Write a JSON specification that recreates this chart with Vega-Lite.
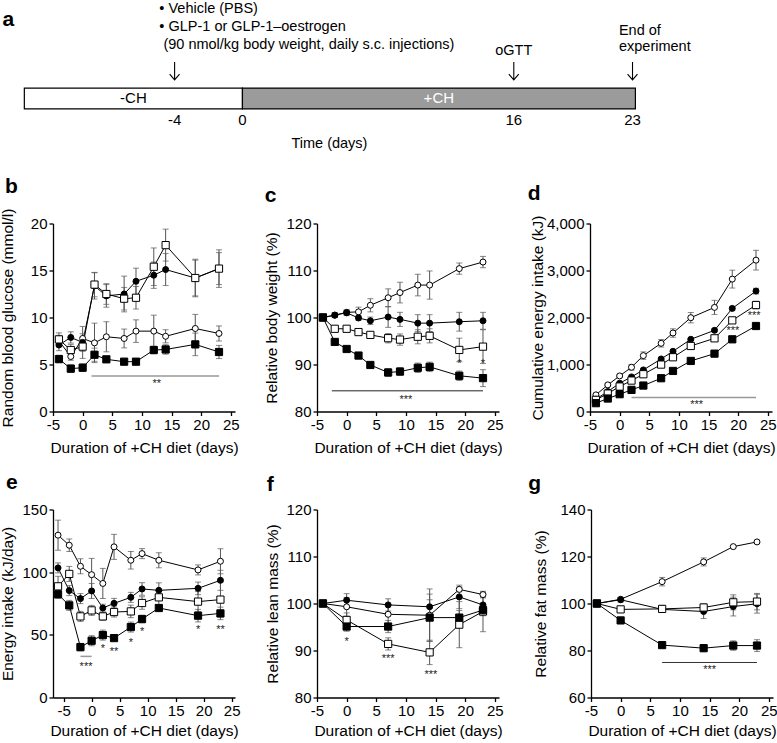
{
  "$schema": "https://vega.github.io/schema/vega-lite/v6.json",
  "padding": 0,
  "background": "white",
  "spacing": 16.5,
  "config": {
    "font": "Liberation Sans",
    "view": {"stroke": "transparent"},
    "axis": {
      "domainColor": "black", "domainWidth": 1.3, "tickColor": "black", "tickWidth": 1.3, "tickSize": 4,
      "labelColor": "black", "titleColor": "black", "labelFont": "Liberation Sans", "titleFont": "Liberation Sans",
      "labelFontSize": 15, "titleFontSize": 15.5, "titleFontWeight": "normal", "grid": false, "labelPadding": 2,
      "labelFlush": false, "labelOverlap": false
    },
    "axisX": {"labelExpr": "replace(datum.label, '−', '-')"},
    "axisY": {"titleBaseline": "middle"},
    "title": {"anchor": "start", "frame": "group", "baseline": "alphabetic", "fontSize": 21, "fontWeight": "bold", "font": "Liberation Sans", "color": "black"}
  },
  "datasets": {
    "a_bar_w": [{"d": -12.86, "d2": 0, "y": 4.78, "y2": 5.94}],
    "a_bar_g": [{"d": 0, "d2": 23.17, "y": 4.78, "y2": 5.94}],
    "a_lab_b": [{"d": -6.43, "y": 5.36, "t": "-CH"}],
    "a_lab_w": [{"d": 11.58, "y": 5.36, "t": "+CH"}],
    "a_ticks": [{"d": -4, "y": 6.56, "t": "-4"}, {"d": 0, "y": 6.56, "t": "0"}, {"d": 16, "y": 6.56, "t": "16"}, {"d": 23, "y": 6.56, "t": "23"}],
    "a_arrows": [{"d": -4, "y": 3.83}, {"d": 16, "y": 3.83}, {"d": 23, "y": 3.83}],
    "a_left": [
      {"d": -4.9, "y": 0.39, "t": "• Vehicle (PBS)"},
      {"d": -4.9, "y": 1.39, "t": "• GLP-1 or GLP-1–oestrogen"},
      {"d": -4.66, "y": 2.39, "t": "(90 nmol/kg body weight, daily s.c. injections)"},
      {"d": 22.2, "y": 1.61, "t": "End of"},
      {"d": 22.2, "y": 2.5, "t": "experiment"}
    ],
    "a_center": [{"d": 16, "y": 2.72, "t": "oGTT"}, {"d": 5.13, "y": 7.89, "t": "Time (days)"}],
    "a_letter": [{"d": -14.15, "y": 1.0, "t": "a"}],
    "b": [
      {"s": "Vehicle −CH", "d": -4, "v": 7.5, "e": 0.6}, {"s": "Vehicle −CH", "d": -2, "v": 5.85, "e": 0.4}, {"s": "Vehicle −CH", "d": 0, "v": 7.77, "e": 0.5}, {"s": "Vehicle −CH", "d": 2, "v": 7.3, "e": 2.1}, {"s": "Vehicle −CH", "d": 4, "v": 7.95, "e": 1.6}, {"s": "Vehicle −CH", "d": 7, "v": 7.77, "e": 1.0}, {"s": "Vehicle −CH", "d": 9, "v": 8.55, "e": 1.2}, {"s": "Vehicle −CH", "d": 12, "v": 8.55, "e": 1.7}, {"s": "Vehicle −CH", "d": 14, "v": 8.0, "e": 0.7}, {"s": "Vehicle −CH", "d": 19, "v": 8.83, "e": 1.5}, {"s": "Vehicle −CH", "d": 23, "v": 8.3, "e": 0.8},
      {"s": "Vehicle +CH", "d": -4, "v": 7.07, "e": 0.6}, {"s": "Vehicle +CH", "d": -2, "v": 7.88, "e": 0.6}, {"s": "Vehicle +CH", "d": 0, "v": 7.35, "e": 1.7}, {"s": "Vehicle +CH", "d": 2, "v": 13.36, "e": 1.4}, {"s": "Vehicle +CH", "d": 4, "v": 12.3, "e": 1.2}, {"s": "Vehicle +CH", "d": 7, "v": 12.5, "e": 1.9}, {"s": "Vehicle +CH", "d": 9, "v": 13.85, "e": 1.4}, {"s": "Vehicle +CH", "d": 12, "v": 14.5, "e": 1.4}, {"s": "Vehicle +CH", "d": 14, "v": 15.1, "e": 1.7}, {"s": "Vehicle +CH", "d": 19, "v": 14.2, "e": 1.9}, {"s": "Vehicle +CH", "d": 23, "v": 15.2, "e": 1.7},
      {"s": "GLP-1", "d": -4, "v": 7.67, "e": 0.7}, {"s": "GLP-1", "d": -2, "v": 6.54, "e": 0.6}, {"s": "GLP-1", "d": 0, "v": 6.9, "e": 0.5}, {"s": "GLP-1", "d": 2, "v": 13.5, "e": 1.3}, {"s": "GLP-1", "d": 4, "v": 12.5, "e": 1.1}, {"s": "GLP-1", "d": 7, "v": 12.0, "e": 1.2}, {"s": "GLP-1", "d": 9, "v": 12.1, "e": 1.2}, {"s": "GLP-1", "d": 12, "v": 15.4, "e": 2.0}, {"s": "GLP-1", "d": 14, "v": 17.7, "e": 1.7}, {"s": "GLP-1", "d": 19, "v": 14.2, "e": 2.0}, {"s": "GLP-1", "d": 23, "v": 15.2, "e": 2.0},
      {"s": "GLP-1–oestrogen", "d": -4, "v": 5.58, "e": 0.4}, {"s": "GLP-1–oestrogen", "d": -2, "v": 4.56, "e": 0.4}, {"s": "GLP-1–oestrogen", "d": 0, "v": 4.66, "e": 0.4}, {"s": "GLP-1–oestrogen", "d": 2, "v": 6.04, "e": 0.7}, {"s": "GLP-1–oestrogen", "d": 4, "v": 5.55, "e": 0.2}, {"s": "GLP-1–oestrogen", "d": 7, "v": 5.3, "e": 0.2}, {"s": "GLP-1–oestrogen", "d": 9, "v": 5.3, "e": 0.2}, {"s": "GLP-1–oestrogen", "d": 12, "v": 6.54, "e": 0.4}, {"s": "GLP-1–oestrogen", "d": 14, "v": 6.6, "e": 0.5}, {"s": "GLP-1–oestrogen", "d": 19, "v": 7.14, "e": 1.2}, {"s": "GLP-1–oestrogen", "d": 23, "v": 6.33, "e": 0.7}
    ],
    "b_r": [{"d": 1.5, "d2": 23, "v": 3.78}],
    "b_t": [{"d": 12.5, "v": 2.9, "t": "**"}],
    "c": [
      {"s": "Vehicle −CH", "d": -4, "v": 100, "e": 0}, {"s": "Vehicle −CH", "d": -2, "v": 100.5, "e": 0.5}, {"s": "Vehicle −CH", "d": 0, "v": 101.1, "e": 0.5}, {"s": "Vehicle −CH", "d": 2, "v": 101.2, "e": 1.0}, {"s": "Vehicle −CH", "d": 4, "v": 102.6, "e": 1.4}, {"s": "Vehicle −CH", "d": 7, "v": 104.2, "e": 1.9}, {"s": "Vehicle −CH", "d": 9, "v": 105.3, "e": 2.2}, {"s": "Vehicle −CH", "d": 12, "v": 106.9, "e": 2.3}, {"s": "Vehicle −CH", "d": 14, "v": 106.9, "e": 3.0}, {"s": "Vehicle −CH", "d": 19, "v": 110.4, "e": 1.2}, {"s": "Vehicle −CH", "d": 23, "v": 111.8, "e": 1.2},
      {"s": "Vehicle +CH", "d": -4, "v": 100, "e": 0}, {"s": "Vehicle +CH", "d": -2, "v": 100.5, "e": 0.5}, {"s": "Vehicle +CH", "d": 0, "v": 101.0, "e": 0.6}, {"s": "Vehicle +CH", "d": 2, "v": 99.9, "e": 0.5}, {"s": "Vehicle +CH", "d": 4, "v": 99.3, "e": 0.8}, {"s": "Vehicle +CH", "d": 7, "v": 100.1, "e": 2.2}, {"s": "Vehicle +CH", "d": 9, "v": 99.6, "e": 1.5}, {"s": "Vehicle +CH", "d": 12, "v": 98.8, "e": 1.8}, {"s": "Vehicle +CH", "d": 14, "v": 98.8, "e": 1.8}, {"s": "Vehicle +CH", "d": 19, "v": 99.1, "e": 2.0}, {"s": "Vehicle +CH", "d": 23, "v": 99.3, "e": 1.8},
      {"s": "GLP-1", "d": -4, "v": 100, "e": 0}, {"s": "GLP-1", "d": -2, "v": 97.6, "e": 0.4}, {"s": "GLP-1", "d": 0, "v": 97.6, "e": 0.3}, {"s": "GLP-1", "d": 2, "v": 96.9, "e": 0.3}, {"s": "GLP-1", "d": 4, "v": 96.3, "e": 0.3}, {"s": "GLP-1", "d": 7, "v": 95.6, "e": 1.0}, {"s": "GLP-1", "d": 9, "v": 95.3, "e": 1.2}, {"s": "GLP-1", "d": 12, "v": 95.9, "e": 1.5}, {"s": "GLP-1", "d": 14, "v": 96.1, "e": 1.5}, {"s": "GLP-1", "d": 19, "v": 93.1, "e": 2.5}, {"s": "GLP-1", "d": 23, "v": 93.8, "e": 3.6},
      {"s": "GLP-1–oestrogen", "d": -4, "v": 100, "e": 0}, {"s": "GLP-1–oestrogen", "d": -2, "v": 94.8, "e": 0.3}, {"s": "GLP-1–oestrogen", "d": 0, "v": 93.3, "e": 0.3}, {"s": "GLP-1–oestrogen", "d": 2, "v": 91.9, "e": 0.4}, {"s": "GLP-1–oestrogen", "d": 4, "v": 89.9, "e": 0.5}, {"s": "GLP-1–oestrogen", "d": 7, "v": 88.3, "e": 0.8}, {"s": "GLP-1–oestrogen", "d": 9, "v": 88.5, "e": 0.8}, {"s": "GLP-1–oestrogen", "d": 12, "v": 89.3, "e": 1.0}, {"s": "GLP-1–oestrogen", "d": 14, "v": 89.5, "e": 1.0}, {"s": "GLP-1–oestrogen", "d": 19, "v": 87.6, "e": 1.0}, {"s": "GLP-1–oestrogen", "d": 23, "v": 87.1, "e": 1.8}
    ],
    "c_r": [{"d": -2.5, "d2": 23, "v": 84.4}],
    "c_t": [{"d": 10, "v": 82.4, "t": "***"}, {"d": 19, "v": 90.1, "t": "*"}, {"d": 23, "v": 90.1, "t": "*"}],
    "dd": [
      {"s": "Vehicle −CH", "d": -4, "v": 354, "e": 30}, {"s": "Vehicle −CH", "d": -2, "v": 566, "e": 30}, {"s": "Vehicle −CH", "d": 0, "v": 757, "e": 30}, {"s": "Vehicle −CH", "d": 2, "v": 941, "e": 60}, {"s": "Vehicle −CH", "d": 4, "v": 1189, "e": 80}, {"s": "Vehicle −CH", "d": 7, "v": 1451, "e": 80}, {"s": "Vehicle −CH", "d": 9, "v": 1670, "e": 90}, {"s": "Vehicle −CH", "d": 12, "v": 1996, "e": 110}, {"s": "Vehicle −CH", "d": 16, "v": 2215, "e": 150}, {"s": "Vehicle −CH", "d": 19, "v": 2817, "e": 190}, {"s": "Vehicle −CH", "d": 23, "v": 3220, "e": 210},
      {"s": "Vehicle +CH", "d": -4, "v": 262, "e": 20}, {"s": "Vehicle +CH", "d": -2, "v": 425, "e": 20}, {"s": "Vehicle +CH", "d": 0, "v": 602, "e": 20}, {"s": "Vehicle +CH", "d": 2, "v": 736, "e": 20}, {"s": "Vehicle +CH", "d": 4, "v": 885, "e": 20}, {"s": "Vehicle +CH", "d": 7, "v": 1118, "e": 20}, {"s": "Vehicle +CH", "d": 9, "v": 1281, "e": 20}, {"s": "Vehicle +CH", "d": 12, "v": 1536, "e": 20}, {"s": "Vehicle +CH", "d": 16, "v": 1727, "e": 30}, {"s": "Vehicle +CH", "d": 19, "v": 2194, "e": 40}, {"s": "Vehicle +CH", "d": 23, "v": 2562, "e": 60},
      {"s": "GLP-1", "d": -4, "v": 248, "e": 20}, {"s": "GLP-1", "d": -2, "v": 382, "e": 20}, {"s": "GLP-1", "d": 0, "v": 531, "e": 20}, {"s": "GLP-1", "d": 2, "v": 658, "e": 20}, {"s": "GLP-1", "d": 4, "v": 793, "e": 20}, {"s": "GLP-1", "d": 7, "v": 998, "e": 20}, {"s": "GLP-1", "d": 9, "v": 1154, "e": 20}, {"s": "GLP-1", "d": 12, "v": 1394, "e": 30}, {"s": "GLP-1", "d": 16, "v": 1557, "e": 30}, {"s": "GLP-1", "d": 19, "v": 1939, "e": 50}, {"s": "GLP-1", "d": 23, "v": 2265, "e": 80},
      {"s": "GLP-1–oestrogen", "d": -4, "v": 177, "e": 15}, {"s": "GLP-1–oestrogen", "d": -2, "v": 276, "e": 15}, {"s": "GLP-1–oestrogen", "d": 0, "v": 368, "e": 15}, {"s": "GLP-1–oestrogen", "d": 2, "v": 460, "e": 15}, {"s": "GLP-1–oestrogen", "d": 4, "v": 552, "e": 15}, {"s": "GLP-1–oestrogen", "d": 7, "v": 708, "e": 15}, {"s": "GLP-1–oestrogen", "d": 9, "v": 863, "e": 15}, {"s": "GLP-1–oestrogen", "d": 12, "v": 1076, "e": 15}, {"s": "GLP-1–oestrogen", "d": 16, "v": 1231, "e": 15}, {"s": "GLP-1–oestrogen", "d": 19, "v": 1536, "e": 15}, {"s": "GLP-1–oestrogen", "d": 23, "v": 1819, "e": 20}
    ],
    "d_r": [{"d": 2, "d2": 23, "v": 297}],
    "d_t": [{"d": 13, "v": 130, "t": "***"}, {"d": 19.1, "v": 1720, "t": "***"}, {"d": 22.7, "v": 2040, "t": "***"}],
    "e": [
      {"s": "Vehicle −CH", "d": -6, "v": 129.5, "e": 12}, {"s": "Vehicle −CH", "d": -4, "v": 121.5, "e": 5}, {"s": "Vehicle −CH", "d": -2, "v": 104.7, "e": 6}, {"s": "Vehicle −CH", "d": 0, "v": 98, "e": 13}, {"s": "Vehicle −CH", "d": 2, "v": 91, "e": 12}, {"s": "Vehicle −CH", "d": 4, "v": 120.2, "e": 10}, {"s": "Vehicle −CH", "d": 7, "v": 109.5, "e": 7}, {"s": "Vehicle −CH", "d": 9, "v": 114.8, "e": 4}, {"s": "Vehicle −CH", "d": 12, "v": 109.5, "e": 6}, {"s": "Vehicle −CH", "d": 19, "v": 101.8, "e": 4}, {"s": "Vehicle −CH", "d": 23, "v": 108.7, "e": 10},
      {"s": "Vehicle +CH", "d": -6, "v": 103.4, "e": 4}, {"s": "Vehicle +CH", "d": -4, "v": 85.3, "e": 4}, {"s": "Vehicle +CH", "d": -2, "v": 78.9, "e": 4}, {"s": "Vehicle +CH", "d": 0, "v": 85, "e": 6}, {"s": "Vehicle +CH", "d": 2, "v": 71.4, "e": 3}, {"s": "Vehicle +CH", "d": 4, "v": 75.1, "e": 4}, {"s": "Vehicle +CH", "d": 7, "v": 79.9, "e": 4}, {"s": "Vehicle +CH", "d": 9, "v": 86.6, "e": 5}, {"s": "Vehicle +CH", "d": 12, "v": 85.5, "e": 6}, {"s": "Vehicle +CH", "d": 19, "v": 87.1, "e": 5}, {"s": "Vehicle +CH", "d": 23, "v": 93.5, "e": 8},
      {"s": "GLP-1", "d": -6, "v": 88.7, "e": 8}, {"s": "GLP-1", "d": -4, "v": 98.6, "e": 6}, {"s": "GLP-1", "d": -2, "v": 64.7, "e": 4}, {"s": "GLP-1", "d": 0, "v": 69.5, "e": 4}, {"s": "GLP-1", "d": 2, "v": 64.7, "e": 3}, {"s": "GLP-1", "d": 4, "v": 68.2, "e": 4}, {"s": "GLP-1", "d": 7, "v": 68.7, "e": 5}, {"s": "GLP-1", "d": 9, "v": 75.4, "e": 5}, {"s": "GLP-1", "d": 12, "v": 79.9, "e": 6}, {"s": "GLP-1", "d": 19, "v": 76.5, "e": 8}, {"s": "GLP-1", "d": 23, "v": 78.1, "e": 14},
      {"s": "GLP-1–oestrogen", "d": -6, "v": 82.3, "e": 3}, {"s": "GLP-1–oestrogen", "d": -4, "v": 73.5, "e": 4}, {"s": "GLP-1–oestrogen", "d": -2, "v": 40.2, "e": 3}, {"s": "GLP-1–oestrogen", "d": 0, "v": 45.3, "e": 4}, {"s": "GLP-1–oestrogen", "d": 2, "v": 49.8, "e": 4}, {"s": "GLP-1–oestrogen", "d": 4, "v": 47.4, "e": 2}, {"s": "GLP-1–oestrogen", "d": 7, "v": 56.2, "e": 4}, {"s": "GLP-1–oestrogen", "d": 9, "v": 62.6, "e": 3}, {"s": "GLP-1–oestrogen", "d": 12, "v": 71.4, "e": 2}, {"s": "GLP-1–oestrogen", "d": 19, "v": 65.3, "e": 5}, {"s": "GLP-1–oestrogen", "d": 23, "v": 67.1, "e": 5}
    ],
    "e_r": [{"d": -2, "d2": 0, "v": 32.8}],
    "e_t": [{"d": -1, "v": 24.5, "t": "***"}, {"d": 2, "v": 38.5, "t": "*"}, {"d": 4, "v": 36.5, "t": "**"}, {"d": 7, "v": 43.5, "t": "*"}, {"d": 9, "v": 52.5, "t": "*"}, {"d": 19, "v": 53.5, "t": "*"}, {"d": 23, "v": 53.5, "t": "**"}],
    "f": [
      {"s": "Vehicle −CH", "d": -4, "v": 100, "e": 0}, {"s": "Vehicle −CH", "d": 0, "v": 99.3, "e": 2.0}, {"s": "Vehicle −CH", "d": 7, "v": 97.7, "e": 2.0}, {"s": "Vehicle −CH", "d": 14, "v": 97.5, "e": 5.6}, {"s": "Vehicle −CH", "d": 19, "v": 103.0, "e": 0.5}, {"s": "Vehicle −CH", "d": 23, "v": 101.9, "e": 0.5},
      {"s": "Vehicle +CH", "d": -4, "v": 100, "e": 0}, {"s": "Vehicle +CH", "d": 0, "v": 100.7, "e": 1.4}, {"s": "Vehicle +CH", "d": 7, "v": 99.7, "e": 1.3}, {"s": "Vehicle +CH", "d": 14, "v": 99.3, "e": 1.5}, {"s": "Vehicle +CH", "d": 19, "v": 101.4, "e": 2.5}, {"s": "Vehicle +CH", "d": 23, "v": 99.7, "e": 1.5},
      {"s": "GLP-1", "d": -4, "v": 100, "e": 0}, {"s": "GLP-1", "d": 0, "v": 96.5, "e": 1.5}, {"s": "GLP-1", "d": 7, "v": 91.4, "e": 1.3}, {"s": "GLP-1", "d": 14, "v": 89.6, "e": 2.6}, {"s": "GLP-1", "d": 19, "v": 95.5, "e": 4.9}, {"s": "GLP-1", "d": 23, "v": 98.3, "e": 4.3},
      {"s": "GLP-1–oestrogen", "d": -4, "v": 100, "e": 0}, {"s": "GLP-1–oestrogen", "d": 0, "v": 95.1, "e": 1.0}, {"s": "GLP-1–oestrogen", "d": 7, "v": 95.1, "e": 1.3}, {"s": "GLP-1–oestrogen", "d": 14, "v": 97.0, "e": 5.0}, {"s": "GLP-1–oestrogen", "d": 19, "v": 97.0, "e": 1.5}, {"s": "GLP-1–oestrogen", "d": 23, "v": 98.6, "e": 1.2}
    ],
    "f_t": [{"d": 0, "v": 91.8, "t": "*"}, {"d": 7, "v": 88.2, "t": "***"}, {"d": 14.2, "v": 84.8, "t": "***"}],
    "g": [
      {"s": "Vehicle −CH", "d": -4, "v": 100, "e": 0}, {"s": "Vehicle −CH", "d": 0, "v": 101.8, "e": 0.5}, {"s": "Vehicle −CH", "d": 7, "v": 109.3, "e": 1.8}, {"s": "Vehicle −CH", "d": 14, "v": 117.7, "e": 1.7}, {"s": "Vehicle −CH", "d": 19, "v": 124.2, "e": 0.5}, {"s": "Vehicle −CH", "d": 23, "v": 126.2, "e": 0.5},
      {"s": "Vehicle +CH", "d": -4, "v": 100, "e": 0}, {"s": "Vehicle +CH", "d": 0, "v": 101.6, "e": 1.0}, {"s": "Vehicle +CH", "d": 7, "v": 97.5, "e": 1.0}, {"s": "Vehicle +CH", "d": 14, "v": 96.6, "e": 3.0}, {"s": "Vehicle +CH", "d": 19, "v": 98.7, "e": 4.0}, {"s": "Vehicle +CH", "d": 23, "v": 99.9, "e": 4.0},
      {"s": "GLP-1", "d": -4, "v": 100, "e": 0}, {"s": "GLP-1", "d": 0, "v": 97.5, "e": 1.0}, {"s": "GLP-1", "d": 7, "v": 97.7, "e": 1.5}, {"s": "GLP-1", "d": 14, "v": 98.3, "e": 1.5}, {"s": "GLP-1", "d": 19, "v": 100.5, "e": 3.2}, {"s": "GLP-1", "d": 23, "v": 100.8, "e": 3.5},
      {"s": "GLP-1–oestrogen", "d": -4, "v": 100, "e": 0}, {"s": "GLP-1–oestrogen", "d": 0, "v": 92.8, "e": 0.5}, {"s": "GLP-1–oestrogen", "d": 7, "v": 82.3, "e": 1.2}, {"s": "GLP-1–oestrogen", "d": 14, "v": 81.0, "e": 1.5}, {"s": "GLP-1–oestrogen", "d": 19, "v": 82.1, "e": 2.0}, {"s": "GLP-1–oestrogen", "d": 23, "v": 82.1, "e": 2.5}
    ],
    "g_r": [{"d": 7, "d2": 23, "v": 74.9}],
    "g_t": [{"d": 15, "v": 71.6, "t": "***"}]
  },
  "vconcat": [
    {
      "width": 723, "height": 156,
      "encoding": {
        "x": {"field": "d", "type": "quantitative", "scale": {"domain": [-11.17, 31.46], "nice": false, "zero": false}, "axis": null},
        "y": {"field": "y", "type": "quantitative", "scale": {"domain": [0, 8.667], "reverse": true, "nice": false, "zero": false}, "axis": null}
      },
      "layer": [
        {"data": {"name": "a_bar_w"}, "mark": {"type": "rect", "stroke": "black", "strokeWidth": 1.2, "fill": "white"}, "encoding": {"x2": {"field": "d2"}, "y2": {"field": "y2"}}},
        {"data": {"name": "a_bar_g"}, "mark": {"type": "rect", "stroke": "black", "strokeWidth": 1.2, "fill": "#9b9b9b"}, "encoding": {"x2": {"field": "d2"}, "y2": {"field": "y2"}}},
        {"data": {"name": "a_lab_b"}, "mark": {"type": "text", "fontSize": 15, "baseline": "middle", "color": "black"}, "encoding": {"text": {"field": "t"}}},
        {"data": {"name": "a_lab_w"}, "mark": {"type": "text", "fontSize": 15, "baseline": "middle", "color": "white"}, "encoding": {"text": {"field": "t"}}},
        {"data": {"name": "a_ticks"}, "mark": {"type": "text", "fontSize": 15, "baseline": "middle", "color": "black"}, "encoding": {"text": {"field": "t"}}},
        {"data": {"name": "a_center"}, "mark": {"type": "text", "fontSize": 14.5, "baseline": "middle", "color": "black"}, "encoding": {"text": {"field": "t"}}},
        {"data": {"name": "a_left"}, "mark": {"type": "text", "fontSize": 14.5, "baseline": "middle", "align": "left", "color": "black"}, "encoding": {"text": {"field": "t"}}},
        {"data": {"name": "a_letter"}, "mark": {"type": "text", "fontSize": 21, "fontWeight": "bold", "baseline": "middle", "align": "left", "color": "black"}, "encoding": {"text": {"field": "t"}}},
        {"data": {"name": "a_arrows"}, "mark": {"type": "point", "shape": "M0,-1L0,1M-0.55,0.35L0,1L0.55,0.35", "size": 324, "filled": false, "color": "black", "strokeWidth": 1.1, "opacity": 1}, "encoding": {}}
      ]
    },
    {
      "spacing": 14,
      "vconcat": [
        {
          "spacing": 23,
          "hconcat": [
            {
              "width": 182, "height": 188,
              "title": {"text": "b", "dx": -48, "offset": 11},
              "encoding": {
                "x": {"field": "d", "type": "quantitative", "scale": {"domain": [-5, 25.7], "nice": false, "zero": false}, "axis": {"values": [-5, 0, 5, 10, 15, 20, 25], "title": "Duration of +CH diet (days)", "titlePadding": 7.5}},
                "y": {"field": "v", "type": "quantitative", "scale": {"domain": [0, 20], "nice": false, "zero": false}, "axis": {"values": [0, 5, 10, 15, 20], "title": "Random blood glucose (mmol/l)", "titleX": -45.3}}
              },
              "layer": [
                {"data": {"name": "b"}, "mark": {"type": "line", "color": "black", "strokeWidth": 1}, "encoding": {"detail": {"field": "s"}}},
                {"data": {"name": "b"}, "mark": {"type": "errorbar", "ticks": true, "size": 6, "thickness": 1, "color": "#555"}, "encoding": {"yError": {"field": "e"}}},
                {"data": {"name": "b"}, "mark": {"type": "point", "filled": true, "stroke": "black", "strokeWidth": 1, "opacity": 1},
                 "encoding": {
                   "shape": {"field": "s", "type": "nominal", "scale": {"domain": ["Vehicle −CH", "Vehicle +CH", "GLP-1", "GLP-1–oestrogen"], "range": ["circle", "circle", "square", "square"]}, "legend": null},
                   "fill": {"field": "s", "type": "nominal", "scale": {"domain": ["Vehicle −CH", "Vehicle +CH", "GLP-1", "GLP-1–oestrogen"], "range": ["white", "black", "white", "black"]}, "legend": null},
                   "size": {"field": "s", "type": "nominal", "scale": {"type": "ordinal", "domain": ["Vehicle −CH", "Vehicle +CH", "GLP-1", "GLP-1–oestrogen"], "range": [36, 36, 52, 52]}, "legend": null}}},
                {"data": {"name": "b_r"}, "mark": {"type": "rule", "color": "#999", "strokeWidth": 1.5}, "encoding": {"x2": {"field": "d2"}}},
                {"data": {"name": "b_t"}, "mark": {"type": "text", "fontSize": 11, "color": "#222"}, "encoding": {"text": {"field": "t"}}}
              ]
            },
            {
              "width": 182, "height": 188,
              "title": {"text": "c", "dx": -52.3, "offset": 11},
              "encoding": {
                "x": {"field": "d", "type": "quantitative", "scale": {"domain": [-5, 25.7], "nice": false, "zero": false}, "axis": {"values": [-5, 0, 5, 10, 15, 20, 25], "title": "Duration of +CH diet (days)", "titlePadding": 7.5}},
                "y": {"field": "v", "type": "quantitative", "scale": {"domain": [80, 120], "nice": false, "zero": false}, "axis": {"values": [80, 90, 100, 110, 120], "title": "Relative body weight (%)", "titleX": -45.6}}
              },
              "layer": [
                {"data": {"name": "c"}, "mark": {"type": "line", "color": "black", "strokeWidth": 1}, "encoding": {"detail": {"field": "s"}}},
                {"data": {"name": "c"}, "mark": {"type": "errorbar", "ticks": true, "size": 6, "thickness": 1, "color": "#555"}, "encoding": {"yError": {"field": "e"}}},
                {"data": {"name": "c"}, "mark": {"type": "point", "filled": true, "stroke": "black", "strokeWidth": 1, "opacity": 1},
                 "encoding": {
                   "shape": {"field": "s", "type": "nominal", "scale": {"domain": ["Vehicle −CH", "Vehicle +CH", "GLP-1", "GLP-1–oestrogen"], "range": ["circle", "circle", "square", "square"]}, "legend": null},
                   "fill": {"field": "s", "type": "nominal", "scale": {"domain": ["Vehicle −CH", "Vehicle +CH", "GLP-1", "GLP-1–oestrogen"], "range": ["white", "black", "white", "black"]}, "legend": null},
                   "size": {"field": "s", "type": "nominal", "scale": {"type": "ordinal", "domain": ["Vehicle −CH", "Vehicle +CH", "GLP-1", "GLP-1–oestrogen"], "range": [36, 36, 52, 52]}, "legend": null}}},
                {"data": {"name": "c_r"}, "mark": {"type": "rule", "color": "#222", "strokeWidth": 1}, "encoding": {"x2": {"field": "d2"}}},
                {"data": {"name": "c_t"}, "mark": {"type": "text", "fontSize": 11, "color": "#222"}, "encoding": {"text": {"field": "t"}}}
              ]
            },
            {
              "width": 182, "height": 188,
              "title": {"text": "d", "dx": -62.3, "offset": 11},
              "encoding": {
                "x": {"field": "d", "type": "quantitative", "scale": {"domain": [-5, 25.7], "nice": false, "zero": false}, "axis": {"values": [-5, 0, 5, 10, 15, 20, 25], "title": "Duration of +CH diet (days)", "titlePadding": 7.5}},
                "y": {"field": "v", "type": "quantitative", "scale": {"domain": [0, 4000], "nice": false, "zero": false}, "axis": {"values": [0, 1000, 2000, 3000, 4000], "format": ",", "labelExpr": "format(datum.value, ',')", "title": "Cumulative energy intake (kJ)", "titleX": -52.5}}
              },
              "layer": [
                {"data": {"name": "dd"}, "mark": {"type": "line", "color": "black", "strokeWidth": 1}, "encoding": {"detail": {"field": "s"}}},
                {"data": {"name": "dd"}, "mark": {"type": "errorbar", "ticks": true, "size": 6, "thickness": 1, "color": "#555"}, "encoding": {"yError": {"field": "e"}}},
                {"data": {"name": "dd"}, "mark": {"type": "point", "filled": true, "stroke": "black", "strokeWidth": 1, "opacity": 1},
                 "encoding": {
                   "shape": {"field": "s", "type": "nominal", "scale": {"domain": ["Vehicle −CH", "Vehicle +CH", "GLP-1", "GLP-1–oestrogen"], "range": ["circle", "circle", "square", "square"]}, "legend": null},
                   "fill": {"field": "s", "type": "nominal", "scale": {"domain": ["Vehicle −CH", "Vehicle +CH", "GLP-1", "GLP-1–oestrogen"], "range": ["white", "black", "white", "black"]}, "legend": null},
                   "size": {"field": "s", "type": "nominal", "scale": {"type": "ordinal", "domain": ["Vehicle −CH", "Vehicle +CH", "GLP-1", "GLP-1–oestrogen"], "range": [36, 36, 52, 52]}, "legend": null}}},
                {"data": {"name": "d_r"}, "mark": {"type": "rule", "color": "#999", "strokeWidth": 1.5}, "encoding": {"x2": {"field": "d2"}}},
                {"data": {"name": "d_t"}, "mark": {"type": "text", "fontSize": 11, "color": "#222"}, "encoding": {"text": {"field": "t"}}}
              ]
            }
          ]
        },
        {
          "spacing": 23,
          "hconcat": [
            {
              "width": 182, "height": 188,
              "title": {"text": "e", "dx": -47, "offset": 10},
              "encoding": {
                "x": {"field": "d", "type": "quantitative", "scale": {"domain": [-6.9, 25.6], "nice": false, "zero": false}, "axis": {"values": [-5, 0, 5, 10, 15, 20, 25], "title": "Duration of +CH diet (days)", "titlePadding": 5.3}},
                "y": {"field": "v", "type": "quantitative", "scale": {"domain": [0, 150], "nice": false, "zero": false}, "axis": {"values": [0, 50, 100, 150], "title": "Energy intake (kJ/day)", "titleX": -45.3}}
              },
              "layer": [
                {"data": {"name": "e"}, "mark": {"type": "line", "color": "black", "strokeWidth": 1}, "encoding": {"detail": {"field": "s"}}},
                {"data": {"name": "e"}, "mark": {"type": "errorbar", "ticks": true, "size": 6, "thickness": 1, "color": "#555"}, "encoding": {"yError": {"field": "e"}}},
                {"data": {"name": "e"}, "mark": {"type": "point", "filled": true, "stroke": "black", "strokeWidth": 1, "opacity": 1},
                 "encoding": {
                   "shape": {"field": "s", "type": "nominal", "scale": {"domain": ["Vehicle −CH", "Vehicle +CH", "GLP-1", "GLP-1–oestrogen"], "range": ["circle", "circle", "square", "square"]}, "legend": null},
                   "fill": {"field": "s", "type": "nominal", "scale": {"domain": ["Vehicle −CH", "Vehicle +CH", "GLP-1", "GLP-1–oestrogen"], "range": ["white", "black", "white", "black"]}, "legend": null},
                   "size": {"field": "s", "type": "nominal", "scale": {"type": "ordinal", "domain": ["Vehicle −CH", "Vehicle +CH", "GLP-1", "GLP-1–oestrogen"], "range": [36, 36, 52, 52]}, "legend": null}}},
                {"data": {"name": "e_r"}, "mark": {"type": "rule", "color": "#999", "strokeWidth": 1.5}, "encoding": {"x2": {"field": "d2"}}},
                {"data": {"name": "e_t"}, "mark": {"type": "text", "fontSize": 11, "color": "#222"}, "encoding": {"text": {"field": "t"}}}
              ]
            },
            {
              "width": 182, "height": 188,
              "title": {"text": "f", "dx": -50.3, "offset": 8},
              "encoding": {
                "x": {"field": "d", "type": "quantitative", "scale": {"domain": [-5, 25.7], "nice": false, "zero": false}, "axis": {"values": [-5, 0, 5, 10, 15, 20, 25], "title": "Duration of +CH diet (days)", "titlePadding": 5.3}},
                "y": {"field": "v", "type": "quantitative", "scale": {"domain": [80, 120], "nice": false, "zero": false}, "axis": {"values": [80, 90, 100, 110, 120], "title": "Relative lean mass (%)", "titleX": -44.5}}
              },
              "layer": [
                {"data": {"name": "f"}, "mark": {"type": "line", "color": "black", "strokeWidth": 1}, "encoding": {"detail": {"field": "s"}}},
                {"data": {"name": "f"}, "mark": {"type": "errorbar", "ticks": true, "size": 6, "thickness": 1, "color": "#555"}, "encoding": {"yError": {"field": "e"}}},
                {"data": {"name": "f"}, "mark": {"type": "point", "filled": true, "stroke": "black", "strokeWidth": 1, "opacity": 1},
                 "encoding": {
                   "shape": {"field": "s", "type": "nominal", "scale": {"domain": ["Vehicle −CH", "Vehicle +CH", "GLP-1", "GLP-1–oestrogen"], "range": ["circle", "circle", "square", "square"]}, "legend": null},
                   "fill": {"field": "s", "type": "nominal", "scale": {"domain": ["Vehicle −CH", "Vehicle +CH", "GLP-1", "GLP-1–oestrogen"], "range": ["white", "black", "white", "black"]}, "legend": null},
                   "size": {"field": "s", "type": "nominal", "scale": {"type": "ordinal", "domain": ["Vehicle −CH", "Vehicle +CH", "GLP-1", "GLP-1–oestrogen"], "range": [36, 36, 52, 52]}, "legend": null}}},
                {"data": {"name": "f_t"}, "mark": {"type": "text", "fontSize": 11, "color": "#222"}, "encoding": {"text": {"field": "t"}}}
              ]
            },
            {
              "width": 182, "height": 188,
              "title": {"text": "g", "dx": -62.7, "offset": 9},
              "encoding": {
                "x": {"field": "d", "type": "quantitative", "scale": {"domain": [-5, 25.7], "nice": false, "zero": false}, "axis": {"values": [-5, 0, 5, 10, 15, 20, 25], "title": "Duration of +CH diet (days)", "titlePadding": 5.3}},
                "y": {"field": "v", "type": "quantitative", "scale": {"domain": [60, 140], "nice": false, "zero": false}, "axis": {"values": [60, 80, 100, 120, 140], "title": "Relative fat mass (%)", "titleX": -51}}
              },
              "layer": [
                {"data": {"name": "g"}, "mark": {"type": "line", "color": "black", "strokeWidth": 1}, "encoding": {"detail": {"field": "s"}}},
                {"data": {"name": "g"}, "mark": {"type": "errorbar", "ticks": true, "size": 6, "thickness": 1, "color": "#555"}, "encoding": {"yError": {"field": "e"}}},
                {"data": {"name": "g"}, "mark": {"type": "point", "filled": true, "stroke": "black", "strokeWidth": 1, "opacity": 1},
                 "encoding": {
                   "shape": {"field": "s", "type": "nominal", "scale": {"domain": ["Vehicle −CH", "Vehicle +CH", "GLP-1", "GLP-1–oestrogen"], "range": ["circle", "circle", "square", "square"]}, "legend": null},
                   "fill": {"field": "s", "type": "nominal", "scale": {"domain": ["Vehicle −CH", "Vehicle +CH", "GLP-1", "GLP-1–oestrogen"], "range": ["white", "black", "white", "black"]}, "legend": null},
                   "size": {"field": "s", "type": "nominal", "scale": {"type": "ordinal", "domain": ["Vehicle −CH", "Vehicle +CH", "GLP-1", "GLP-1–oestrogen"], "range": [36, 36, 52, 52]}, "legend": null}}},
                {"data": {"name": "g_r"}, "mark": {"type": "rule", "color": "#333", "strokeWidth": 1}, "encoding": {"x2": {"field": "d2"}}},
                {"data": {"name": "g_t"}, "mark": {"type": "text", "fontSize": 11, "color": "#222"}, "encoding": {"text": {"field": "t"}}}
              ]
            }
          ]
        }
      ]
    }
  ]
}
